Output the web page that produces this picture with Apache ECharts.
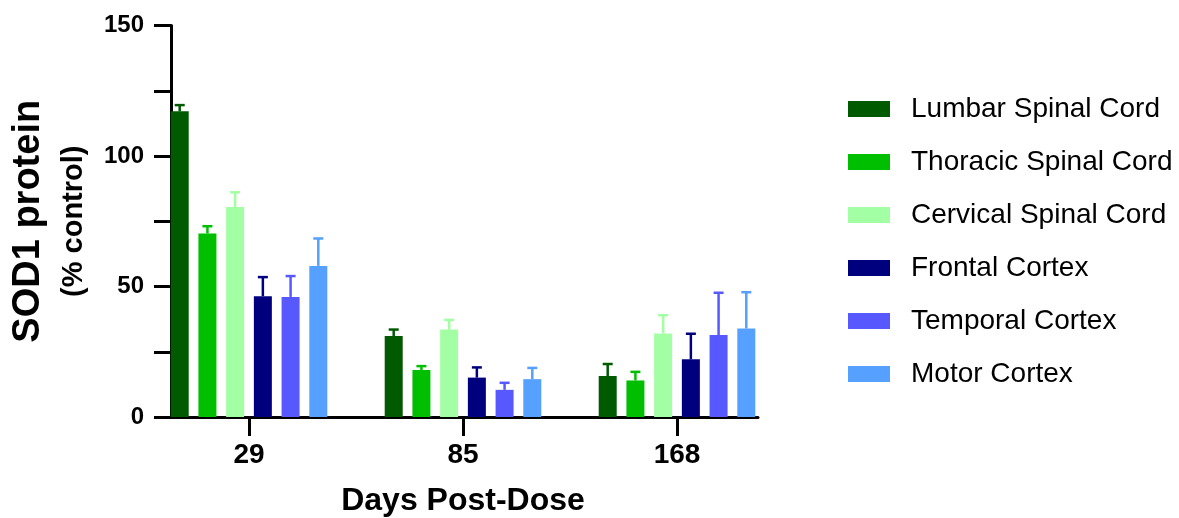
<!DOCTYPE html>
<html>
<head>
<meta charset="utf-8">
<script src="https://cdn.jsdelivr.net/npm/echarts@6/dist/echarts.min.js"></script>
<style>
html,body{margin:0;padding:0;background:#fff;}
#chart{width:1179px;height:518px;}
</style>
</head>
<body>
<div id="chart"></div>
<script>
const categories = ['29', '85', '168'];
const seriesNames = ['Lumbar Spinal Cord', 'Thoracic Spinal Cord', 'Cervical Spinal Cord', 'Frontal Cortex', 'Temporal Cortex', 'Motor Cortex'];
const seriesColors = ['#005a00', '#00bf00', '#a3ffa3', '#00007f', '#5858ff', '#56a0ff'];
const lumbar = [117.1, 31.0, 15.7];
const lumbarErr = [2.4, 2.5, 4.6];
const thoracic = [70.3, 18.0, 14.0];
const thoracicErr = [2.8, 1.5, 3.3];
const cervical = [80.5, 33.5, 32.0];
const cervicalErr = [5.6, 3.7, 7.0];
const frontal = [46.3, 15.1, 22.1];
const frontalErr = [7.3, 3.9, 9.8];
const temporal = [46.0, 10.4, 31.4];
const temporalErr = [8.0, 2.7, 16.2];
const motor = [57.9, 14.5, 33.9];
const motorErr = [10.5, 4.3, 13.9];
const yTicks = [0, 50, 100, 150];

const values = [lumbar, thoracic, cervical, frontal, temporal, motor];
const errs = [lumbarErr, thoracicErr, cervicalErr, frontalErr, temporalErr, motorErr];

const FONT = "'Liberation Sans', Arial, sans-serif";
const BAR_W = 18;
const BAR_GAP = '54%';

const chart = echarts.init(document.getElementById('chart'), null, {renderer: 'canvas'});

const barSeries = seriesNames.map((n, i) => ({
  type: 'bar',
  name: n,
  xAxisIndex: 0,
  yAxisIndex: 0,
  data: values[i],
  barWidth: BAR_W,
  barGap: BAR_GAP,
  itemStyle: {color: seriesColors[i]},
  z: 2
}));

const errSeries = seriesNames.map((n, idx) => ({
  type: 'custom',
  name: n + ' SEM',
  xAxisIndex: 0,
  yAxisIndex: 0,
  silent: true,
  z: 1,
  data: categories.map((c, i) => [i, values[idx][i], values[idx][i] + errs[idx][i]]),
  encode: {x: 0, y: [1, 2]},
  renderItem: function (params, api) {
    const layout = api.barLayout({count: 6, barWidth: BAR_W, barGap: BAR_GAP});
    const xi = api.value(0);
    const lo = api.coord([xi, api.value(1)]);
    const hi = api.coord([xi, api.value(2)]);
    const cx = lo[0] + layout[idx].offsetCenter;
    const color = seriesColors[idx];
    const capHalf = 5;
    return {
      type: 'group',
      children: [
        {type: 'line', shape: {x1: cx, y1: lo[1], x2: cx, y2: hi[1]}, style: {stroke: color, lineWidth: 2.5}},
        {type: 'line', shape: {x1: cx - capHalf, y1: hi[1], x2: cx + capHalf, y2: hi[1]}, style: {stroke: color, lineWidth: 2.5}}
      ]
    };
  }
}));

const option = {
  backgroundColor: '#ffffff',
  animation: false,
  legend: {
    data: seriesNames,
    orient: 'vertical',
    left: 843,
    top: 90,
    icon: 'rect',
    itemWidth: 42,
    itemHeight: 16,
    itemGap: 25,
    textStyle: {fontFamily: FONT, fontSize: 28, color: '#000', lineHeight: 28, padding: [0, 0, 0, 16]}
  },
  grid: [
    {left: 142, right: 395, top: 25.5, bottom: 101, containLabel: false, outerBoundsMode: 'none'},
    {left: 171, right: 421, top: 25.5, bottom: 101, containLabel: false, outerBoundsMode: 'none'}
  ],
  xAxis: [
    {
      type: 'category',
      gridIndex: 0,
      data: categories,
      axisLine: {show: false},
      axisTick: {show: true, alignWithLabel: true, length: 19, lineStyle: {color: '#000', width: 3}},
      axisLabel: {color: '#000', fontFamily: FONT, fontSize: 28, fontWeight: 'bold', margin: 24},
      name: 'Days Post-Dose',
      nameLocation: 'middle',
      nameGap: 68,
      nameTextStyle: {color: '#000', fontFamily: FONT, fontSize: 32, fontWeight: 'bold'}
    },
    {
      type: 'value',
      gridIndex: 1,
      min: 0,
      max: 1,
      axisLine: {show: true, onZero: false, lineStyle: {color: '#000', width: 3}},
      axisTick: {show: false},
      axisLabel: {show: false},
      splitLine: {show: false}
    }
  ],
  yAxis: [
    {
      type: 'value',
      gridIndex: 0,
      min: 0,
      max: 150,
      show: false
    },
    {
      type: 'value',
      gridIndex: 1,
      min: 0,
      max: 150,
      interval: 25,
      axisLine: {show: true, lineStyle: {color: '#000', width: 3}},
      axisTick: {show: true, length: 17, lineStyle: {color: '#000', width: 3}},
      axisLabel: {
        color: '#000', fontFamily: FONT, fontSize: 24, fontWeight: 'bold', margin: 27,
        formatter: function (v) { return yTicks.indexOf(v) >= 0 ? String(v) : ''; }
      },
      splitLine: {show: false},
      name: '{a|SOD1 protein}\n{b|(% control)}',
      nameLocation: 'middle',
      nameRotate: 90,
      nameGap: 72,
      nameTextStyle: {
        color: '#000', fontFamily: FONT, fontWeight: 'bold', align: 'center',
        rich: {
          a: {fontSize: 38, fontWeight: 'bold', fontFamily: FONT, color: '#000', lineHeight: 40},
          b: {fontSize: 29, fontWeight: 'bold', fontFamily: FONT, color: '#000', lineHeight: 50}
        }
      }
    }
  ],
  series: barSeries.concat(errSeries)
};

chart.setOption(option);
</script>
</body>
</html>
